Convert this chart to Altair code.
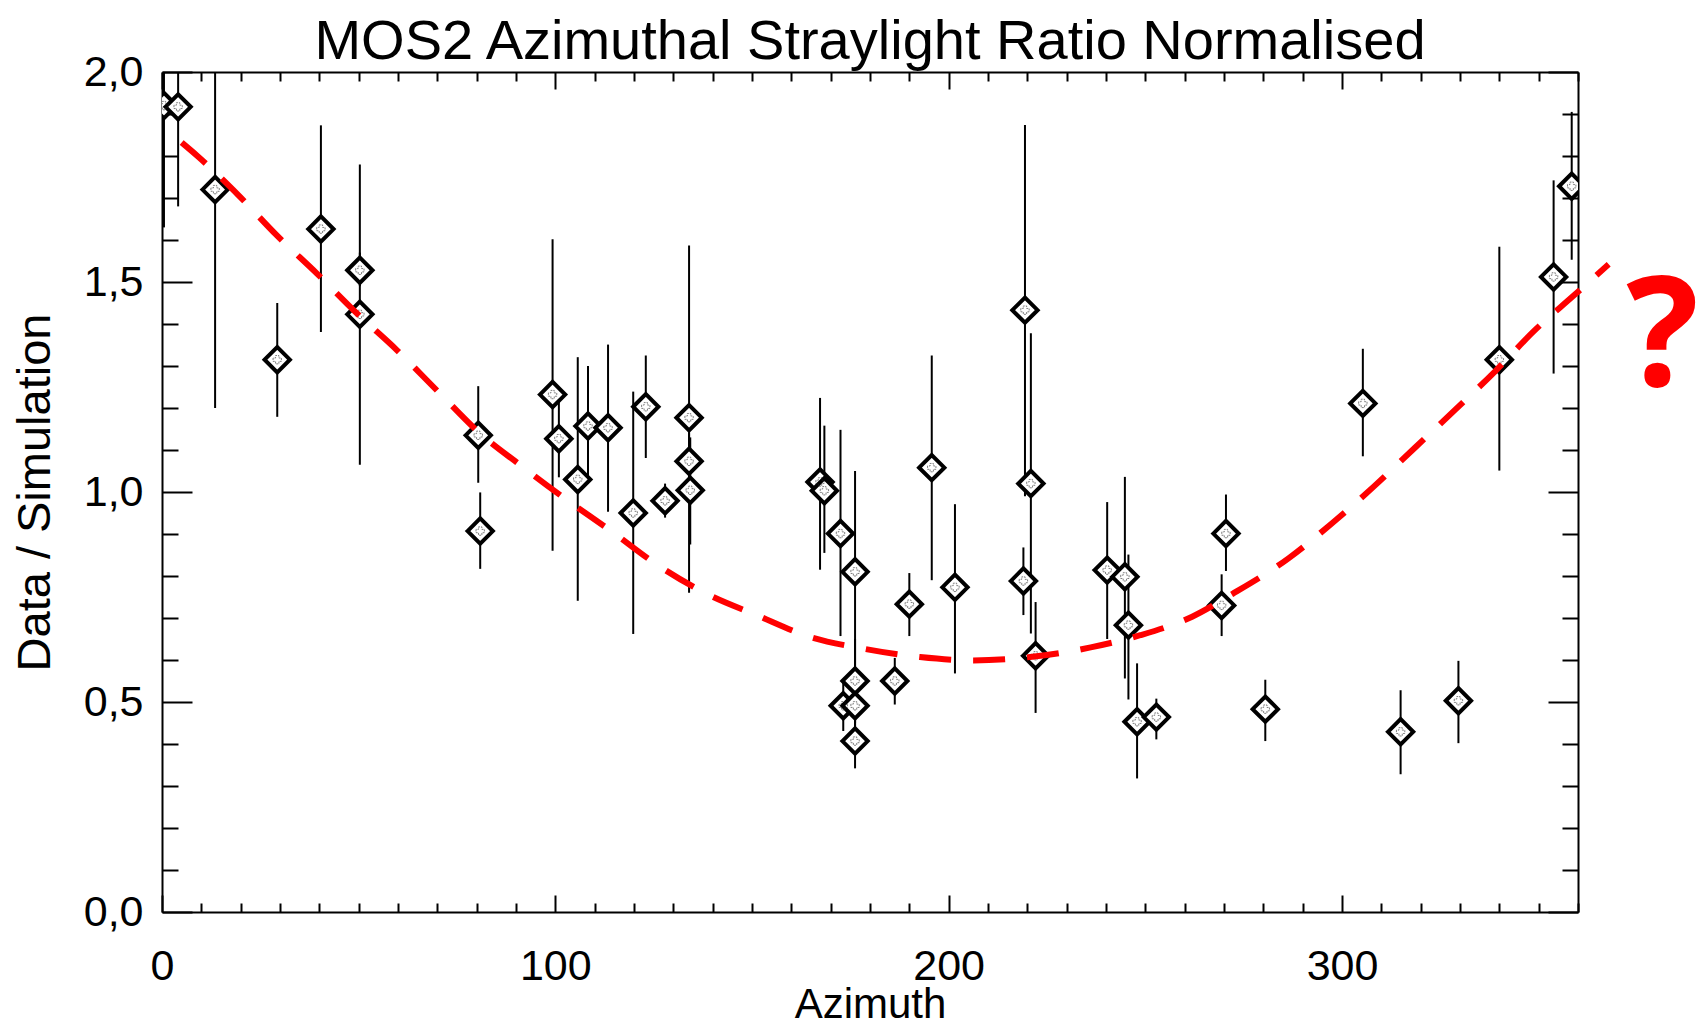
import altair as alt
import pandas as pd

# ---- data ----
azimuth = [0.5, 4.1, 13.5, 29.3, 40.4, 50.3, 50.3, 80.4, 80.9, 99.3,
           100.9, 105.7, 108.3, 113.4, 119.8, 123.0, 127.9, 134.0, 134.0, 134.3,
           167.3, 168.4, 172.5, 176.2, 176.2, 173.2, 176.2, 176.2, 186.3, 190.0,
           195.7, 201.6, 219.4, 219.0, 220.9, 222.1, 240.3, 244.8, 245.7, 247.9,
           252.8, 269.4, 270.5, 280.5, 305.3, 314.9, 329.6, 340.0, 353.8, 358.4]
ratio = [1.92, 1.917, 1.72, 1.315, 1.626, 1.528, 1.423, 1.135, 0.907, 1.232,
         1.127, 1.03, 1.157, 1.153, 0.95, 1.203, 0.979, 1.177, 1.073, 1.004,
         1.024, 1.003, 0.901, 0.81, 0.55, 0.491, 0.491, 0.407, 0.55, 0.733,
         1.058, 0.773, 1.433, 0.788, 1.02, 0.61, 0.814, 0.798, 0.683, 0.453,
         0.464, 0.73, 0.901, 0.483, 1.211, 0.429, 0.503, 1.315, 1.512, 1.728]
err_lo = [1.63, 1.68, 1.20, 1.179, 1.381, 1.49, 1.065, 1.022, 0.817, 0.86,
          1.035, 0.741, 1.02, 0.953, 0.662, 1.081, 0.939, 0.76, 1.01, 0.875,
          0.815, 0.855, 0.657, 0.57, 0.45, 0.431, 0.44, 0.342, 0.494, 0.657,
          0.79, 0.568, 0.99, 0.707, 0.663, 0.474, 0.65, 0.556, 0.506, 0.318,
          0.411, 0.657, 0.812, 0.407, 1.085, 0.328, 0.402, 1.051, 1.282, 1.553]
err_hi = [2.2, 2.15, 2.24, 1.45, 1.873, 1.57, 1.78, 1.252, 0.999, 1.602,
          1.22, 1.321, 1.30, 1.351, 1.239, 1.325, 1.02, 1.587, 1.14, 1.13,
          1.224, 1.158, 1.148, 1.05, 0.65, 0.55, 0.54, 0.472, 0.605, 0.807,
          1.325, 0.971, 1.874, 0.868, 1.378, 0.738, 0.976, 1.036, 0.851, 0.592,
          0.508, 0.804, 0.994, 0.553, 1.341, 0.528, 0.598, 1.584, 1.742, 1.905]

curve_az = [5.0, 9.0, 19.4, 29.2, 39.4, 49.6, 59.7, 70.3, 80.9, 91.1,
            102.5, 113.9, 126.0, 138.4, 151.1, 164.7, 178.3, 192.7, 206.3, 220.7,
            236.1, 248.7, 261.9, 272.1, 286.4, 297.4, 308.2, 318.6, 328.8, 339.0,
            349.1, 358.7, 367.8]
curve_ratio = [1.832, 1.80, 1.707, 1.611, 1.52, 1.425, 1.338, 1.238, 1.139, 1.064,
               0.984, 0.909, 0.826, 0.758, 0.707, 0.655, 0.627, 0.607, 0.599, 0.607,
               0.630, 0.659, 0.703, 0.757, 0.842, 0.925, 1.014, 1.106, 1.196, 1.288,
               1.386, 1.466, 1.542]

x_ticks = list(range(0, 361, 10))
y_ticks = [round(i * 0.1, 1) for i in range(0, 21)]

note_text = ["?"]
note_az = [381.5]
note_ratio = [1.362]

title_text = "MOS2 Azimuthal Straylight Ratio Normalised"
x_title = "Azimuth"
y_title = "Data / Simulation"

# ---- build tables ----
pts = pd.DataFrame({"az": azimuth, "r": ratio, "lo": err_lo, "hi": err_hi})
curve = pd.DataFrame({"az": curve_az, "r": curve_ratio})
note = pd.DataFrame({"az": note_az, "r": note_ratio, "t": note_text})

FONT = "Liberation Sans"
xscale = alt.Scale(domain=[0, 360], nice=False, zero=False)
yscale = alt.Scale(domain=[0, 2], nice=False, zero=False)

x_major = "datum.value % 100 === 0"
y_major = "abs(datum.value * 2 - round(datum.value * 2)) < 0.001"

common_axis = dict(grid=False, domainColor="black", domainWidth=2,
                   tickColor="black", tickWidth=2, labelColor="black",
                   titleColor="black", labelFont=FONT, titleFont=FONT,
                   labelFontSize=43, titleFontWeight="normal")

x_bottom = alt.Axis(orient="bottom", values=x_ticks, title=x_title,
                    tickSize={"expr": f"{x_major} ? -17 : -9"},
                    labelExpr=f"{x_major} ? datum.label : ''",
                    labelPadding=50, titlePadding=-12, titleFontSize=42,
                    labelFlush=False, labelOverlap=False, **common_axis)
x_top = alt.Axis(orient="top", values=x_ticks, title=None, labels=False,
                 tickSize={"expr": f"{x_major} ? -17 : -9"}, **common_axis)
y_left = alt.Axis(orient="left", values=y_ticks, title=y_title,
                  tickSize={"expr": f"{y_major} ? -30 : -16"},
                  labelExpr=f"{y_major} ? replace(format(datum.value, '.1f'), '.', ',') : ''",
                  labelPadding=49, titlePadding=24, titleFontSize=47,
                  labelFlush=False, labelOverlap=False, **common_axis)
y_right = alt.Axis(orient="right", values=y_ticks, title=None, labels=False,
                   tickSize={"expr": f"{y_major} ? -30 : -16"}, **common_axis)

errbars = alt.Chart(pts).mark_rule(color="black", strokeWidth=2, clip=True).encode(
    x=alt.X("az:Q", scale=xscale, axis=x_bottom),
    y=alt.Y("lo:Q", scale=yscale, axis=y_left),
    y2="hi:Q",
)

diamonds = alt.Chart(pts).mark_point(shape="diamond", size=640, filled=True,
                                     fill="white", stroke="black",
                                     strokeWidth=4, opacity=1, clip=True).encode(
    x=alt.X("az:Q", scale=xscale, axis=x_top),
    y=alt.Y("r:Q", scale=yscale, axis=y_right),
)

crosses = alt.Chart(pts).mark_point(shape="cross", size=70, filled=False,
                                    stroke="#222222", strokeWidth=0.8,
                                    strokeDash=[2, 1], clip=True).encode(
    x=alt.X("az:Q", scale=xscale, axis=None),
    y=alt.Y("r:Q", scale=yscale, axis=None),
)

model = alt.Chart(curve).mark_line(color="#ff0000", strokeWidth=6,
                                   strokeDash=[32, 22], interpolate="monotone",
                                   clip=False).encode(
    x=alt.X("az:Q", scale=xscale, axis=None),
    y=alt.Y("r:Q", scale=yscale, axis=None),
)

qmark = alt.Chart(note).mark_text(color="#ff0000", fontSize=152, fontWeight="bold",
                                  font="Open Sans", align="center",
                                  baseline="middle", clip=False).encode(
    x=alt.X("az:Q", scale=xscale, axis=None),
    y=alt.Y("r:Q", scale=yscale, axis=None),
    text="t:N",
)

chart = alt.layer(errbars, diamonds, crosses, model, qmark).resolve_axis(
    x="independent", y="independent"
).properties(
    width=1416, height=840,
    title=alt.TitleParams(title_text, font=FONT, fontSize=56, fontWeight="normal",
                          color="black", anchor="middle", offset=-20),
    autosize=alt.AutoSizeParams(type="none"),
    padding={"left": 154, "top": 64, "right": 120, "bottom": 114},
).configure_view(stroke=None)

chart.save("out.html", embed_options={"renderer": "svg", "actions": False})
